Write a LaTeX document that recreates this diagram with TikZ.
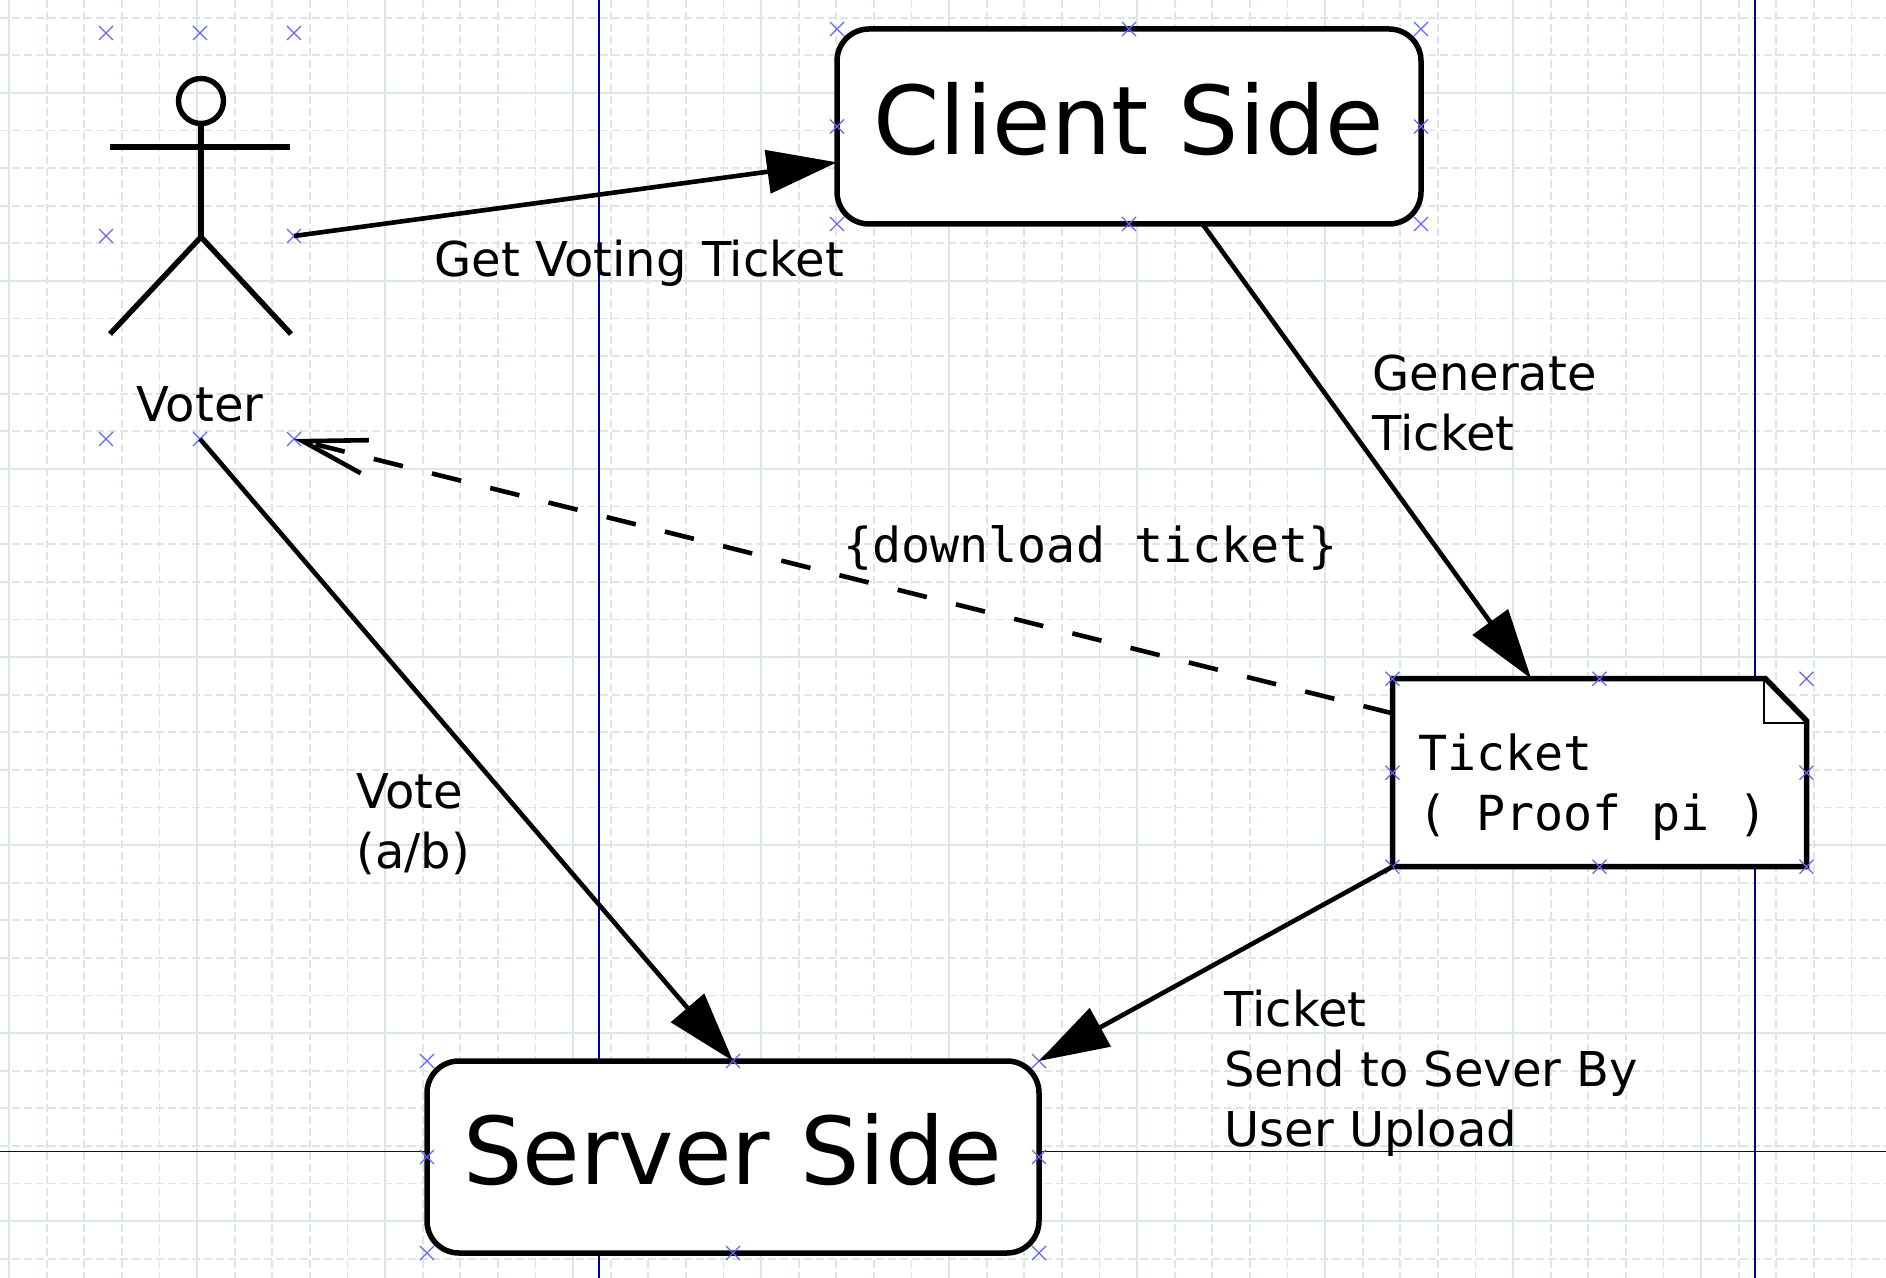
\documentclass[tikz,border=0pt]{standalone}
\usepackage{fontspec}
\setmainfont{DejaVu Sans}
\setmonofont{DejaVu Sans Mono}
\usetikzlibrary{arrows.meta, shapes.misc}

\definecolor{gridline}{RGB}{220,230,230}
\definecolor{pagebreak}{RGB}{0,0,150}
\definecolor{handlecolor}{RGB}{100,100,255}

\tikzset{
	sidebox/.style={draw, fill=white, line width=2.75pt, rounded corners=16pt, outer sep=0pt, inner sep=0pt, font=\fontsize{46.8}{56}\selectfont, text depth=7.7pt},
	anchorbox/.style={outer sep=0pt, inner sep=0pt},
	handlemark/.style={cross out, draw=handlecolor, line width=0.6pt, minimum size=7pt, inner sep=0pt, outer sep=0pt},
	labeltext/.style={anchor=base west, align=left, inner sep=0pt, font=\fontsize{24}{30}\selectfont},
	monotext/.style={labeltext, font=\fontsize{24.15}{30}\selectfont\ttfamily},
	flowline/.style={line width=2.3pt, -{Triangle[length=35pt,width=21.5pt]}},
	returnline/.style={line width=2.3pt, dash pattern=on 15pt off 15pt, -{Straight Barb[length=32pt,width=17pt]}},
	actorline/.style={line width=2.7pt}
}

\newcommand{\handlemarks}[1]{
	\foreach \anc in {north west,north,north east,west,east,south west,south,south east} {
		\node[handlemark] (#1-\anc) at (#1.\anc) {};
	}
}

\begin{document}
\begin{tikzpicture}[x=0.5pt,y=-0.5pt]
		\useasboundingbox[fill=white] (0,0) rectangle (1886,1278);
		\foreach \k in {0,...,49} {
			\pgfmathsetmacro{\gridx}{9+37.6*\k}
			\pgfmathtruncatemacro{\ismajor}{mod(\k,5)==0}
			\ifnum\ismajor=1
				\draw[gridline, line width=0.9pt] (\gridx,0) -- (\gridx,1278);
			\else
				\draw[gridline, line width=0.9pt, dash pattern=on 4pt off 2pt] (\gridx,0) -- (\gridx,1278);
			\fi
		}
		\foreach \k in {0,...,33} {
			\pgfmathsetmacro{\gridy}{17.8+37.6*\k}
			\pgfmathtruncatemacro{\ismajor}{mod(\k,5)==2}
			\ifnum\ismajor=1
				\draw[gridline, line width=0.9pt] (0,\gridy) -- (1886,\gridy);
			\else
				\draw[gridline, line width=0.9pt, dash pattern=on 4pt off 2pt] (0,\gridy) -- (1886,\gridy);
			\fi
		}
		\draw[pagebreak, line width=0.9pt] (599,0) -- (599,1278);
		\draw[pagebreak, line width=0.9pt] (1755,0) -- (1755,1278);
		\draw[pagebreak, line width=0.9pt] (0,1151.5) -- (1886,1151.5);
		\node[sidebox, font=\fontsize{47.5}{56}\selectfont, minimum width=292pt, minimum height=97.5pt] (client) at (1129,126.5) {Client Side};
		\node[sidebox, minimum width=306pt, minimum height=96pt] (server) at (733,1157) {Server Side};
		\node[anchorbox, minimum width=94pt, minimum height=203pt] (voter) at (200,236) {};
		\node[anchorbox, minimum width=207pt, minimum height=94pt] (ticket) at (1599.5,772.7) {};
		\draw[line width=2.75pt, fill=white, line join=miter] (ticket.north west) -- ([xshift=-20.5pt]ticket.north east) -- ([yshift=-21pt]ticket.north east) -- (ticket.south east) -- (ticket.south west) -- cycle;
		\draw[line width=1pt] (ticket.north east) ++(-43,0) -- ++(0,44) -- ++(43,0);
		\draw[actorline] (201,101) circle (22.5);
		\draw[actorline] (110,147) -- (290,147);
		\draw[actorline] (201,124) -- (201,237);
		\draw[actorline] (110,334) -- (201,237) -- (291,334);
		\handlemarks{client}
		\handlemarks{server}
		\handlemarks{voter}
		\handlemarks{ticket}
		\draw[flowline] (voter.east) -- (client.187.7);
		\draw[flowline] (client.-53.4) -- (ticket.126.2);
		\draw[flowline] (voter.south) -- (server.north);
		\draw[flowline] (ticket.south west) -- (server.north east);
		\draw[returnline] (ticket.164.7) -- (voter.south east);
		\node[labeltext, anchor=base] (votername) at (200,422) {Voter};
		\node[labeltext] (getlabel) at (434,277) {Get Voting Ticket};
		\node[labeltext] (genlabel) at (1372,451) {Generate\\Ticket};
		\node[labeltext] (votelabel) at (356,868) {Vote\\(a/b)};
		\node[labeltext] (sendlabel) at (1224,1146) {Ticket\\Send to Sever By\\User Upload};
		\node[monotext] (downloadlabel) at (843,563) {\{download ticket\}};
		\node[monotext] (ticketlabel) at (1418,830) {Ticket\\( Proof pi )};
\end{tikzpicture}
\end{document}
